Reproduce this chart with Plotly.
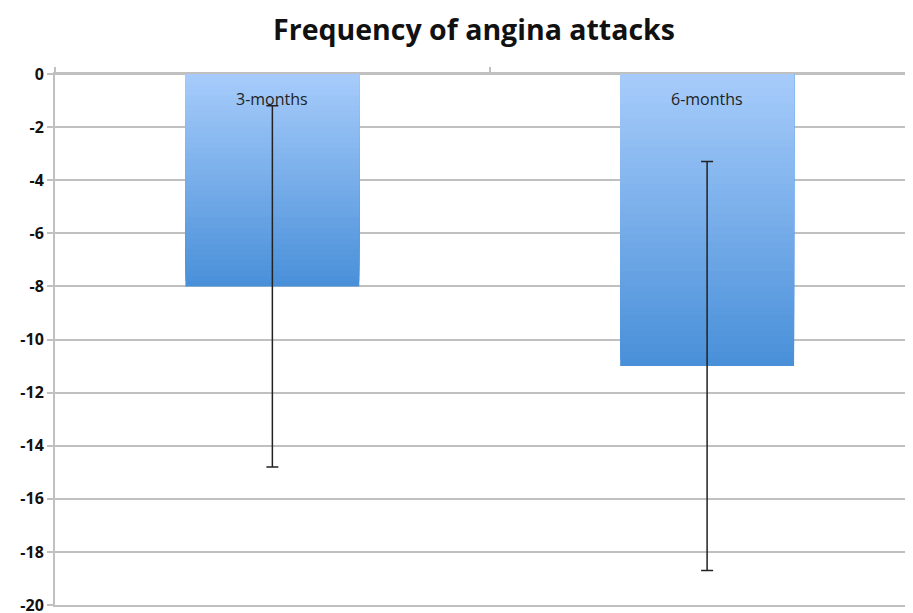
import plotly.graph_objects as go

categories = ["3-months", "6-months"]
values = [-8.0, -11.0]
errors = [6.8, 7.7]
y_ticks = [0, -2, -4, -6, -8, -10, -12, -14, -16, -18, -20]

top_rgb = (168, 205, 251)
bot_rgb = (74, 144, 217)
N = 40

fig = go.Figure()
# gradient bars: full length darkest first, progressively shorter & lighter on top
for i in range(N):
    frac = 1 - i / N
    t = frac  # 1 at bottom (dark) -> 0 at top (light)
    c = tuple(int(round(top_rgb[k] + (bot_rgb[k] - top_rgb[k]) * t)) for k in range(3))
    fig.add_trace(go.Bar(
        x=categories, y=[v * frac for v in values], width=0.4,
        marker=dict(color="rgb(%d,%d,%d)" % c, line=dict(width=0)),
        hoverinfo="skip", showlegend=False,
    ))

# error bars
fig.add_trace(go.Scatter(
    x=categories, y=values, mode="markers",
    marker=dict(size=1, color="rgba(0,0,0,0)"),
    error_y=dict(type="data", array=errors, color="#222222", thickness=1.5, width=6),
    showlegend=False,
))

for cat in categories:
    fig.add_annotation(x=cat, y=0, yanchor="top", yshift=-12, text=cat, showarrow=False,
                       font=dict(family="Open Sans", size=16, color="#222222"))

fig.update_layout(
    barmode="overlay",
    width=913, height=613,
    margin=dict(l=47, r=0, t=66, b=16, autoexpand=False),
    paper_bgcolor="white", plot_bgcolor="white",
    title=dict(text="<b>Frequency of angina attacks</b>", x=466 / 913, xanchor="center",
               y=1 - 22 / 613, yref="container", yanchor="middle",
               font=dict(family="Open Sans", size=28.5, color="#111111")),
    xaxis=dict(range=[-0.5, 1.492], showticklabels=False, showgrid=False, zeroline=False,
               showline=True, mirror=True, linecolor="#c0c0c0", linewidth=2,
               side="top", ticks="outside", tickson="boundaries", ticklen=5,
               tickcolor="#c0c0c0", tickwidth=2, automargin=False),
    yaxis=dict(range=[-20, 0], tickvals=y_ticks, ticktext=[str(v) for v in y_ticks],
               showgrid=True, gridcolor="#c0c0c0", gridwidth=2,
               zeroline=True, zerolinecolor="#c0c0c0", zerolinewidth=2,
               showline=True, linecolor="#c0c0c0", linewidth=2,
               ticks="outside", ticklen=6, tickcolor="#c0c0c0", tickwidth=2,
               tickfont=dict(family="Open Sans", size=16, color="#111111", weight="bold"),
               automargin=False),
)

fig.write_html("out.html")
